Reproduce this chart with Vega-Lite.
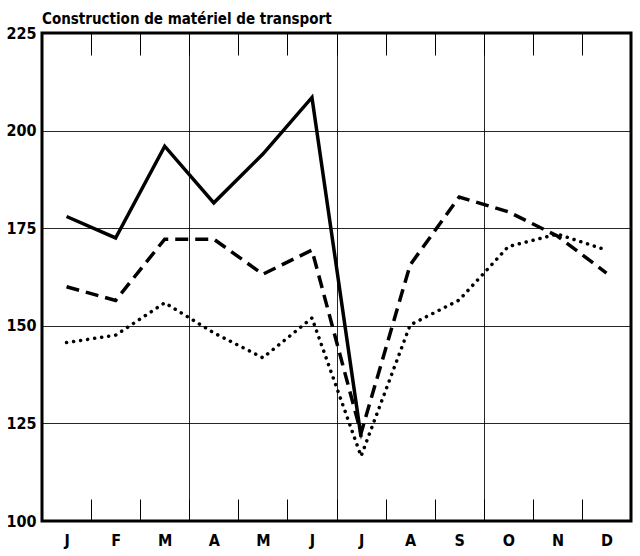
{
  "$schema": "https://vega.github.io/schema/vega-lite/v6.json",
  "width": 589,
  "height": 488,
  "autosize": {"type": "none"},
  "padding": {"left": 42, "top": 33, "right": 9, "bottom": 35},
  "background": "white",
  "title": {
    "text": "Construction de matériel de transport",
    "anchor": "start",
    "frame": "group",
    "font": "DejaVu Sans Condensed",
    "fontSize": 15,
    "fontWeight": "bold",
    "color": "black",
    "offset": -2
  },
  "config": {
    "view": {"stroke": "black", "strokeWidth": 3},
    "axis": {
      "labelFont": "DejaVu Sans Condensed",
      "labelFontWeight": "bold",
      "labelFontSize": 16,
      "labelColor": "black",
      "domain": false,
      "title": null
    }
  },
  "data": {
    "values": [
      {"serie": "solid", "m": 0.5, "v": 178},
      {"serie": "solid", "m": 1.5, "v": 172.5},
      {"serie": "solid", "m": 2.5, "v": 196},
      {"serie": "solid", "m": 3.5, "v": 181.5},
      {"serie": "solid", "m": 4.5, "v": 194},
      {"serie": "solid", "m": 5.5, "v": 208.5},
      {"serie": "solid", "m": 6.5, "v": 121.5},
      {"serie": "dashed", "m": 0.5, "v": 160},
      {"serie": "dashed", "m": 1.5, "v": 156.5},
      {"serie": "dashed", "m": 2.5, "v": 172.2},
      {"serie": "dashed", "m": 3.5, "v": 172.2},
      {"serie": "dashed", "m": 4.5, "v": 163.2},
      {"serie": "dashed", "m": 5.5, "v": 169.4},
      {"serie": "dashed", "m": 6.5, "v": 122.5},
      {"serie": "dashed", "m": 7.5, "v": 165.6},
      {"serie": "dashed", "m": 8.5, "v": 183},
      {"serie": "dashed", "m": 9.5, "v": 179.2},
      {"serie": "dashed", "m": 10.5, "v": 173},
      {"serie": "dashed", "m": 11.5, "v": 163.5},
      {"serie": "dotted", "m": 0.5, "v": 145.7},
      {"serie": "dotted", "m": 1.5, "v": 147.6},
      {"serie": "dotted", "m": 2.5, "v": 155.9},
      {"serie": "dotted", "m": 3.5, "v": 148.2},
      {"serie": "dotted", "m": 4.5, "v": 141.8},
      {"serie": "dotted", "m": 5.5, "v": 152},
      {"serie": "dotted", "m": 6.5, "v": 116.6},
      {"serie": "dotted", "m": 7.5, "v": 150.2},
      {"serie": "dotted", "m": 8.5, "v": 156.6},
      {"serie": "dotted", "m": 9.5, "v": 170.3},
      {"serie": "dotted", "m": 10.5, "v": 173.5},
      {"serie": "dotted", "m": 11.5, "v": 169.4}
    ]
  },
  "encoding": {
    "y": {
      "field": "v",
      "type": "quantitative",
      "scale": {"domain": [100, 225], "nice": false, "zero": false},
      "axis": {
        "values": [100, 125, 150, 175, 200, 225],
        "grid": true,
        "gridColor": "black",
        "gridWidth": 1,
        "gridOpacity": 0.85,
        "ticks": false,
        "labelPadding": 6,
        "labelBaseline": "middle"
      }
    }
  },
  "resolve": {"axis": {"x": "independent"}},
  "layer": [
    {
      "transform": [{"filter": "datum.serie === 'solid'"}],
      "mark": {"type": "line", "color": "black", "strokeWidth": 3.5, "strokeJoin": "miter"},
      "encoding": {
        "x": {
          "field": "m",
          "type": "quantitative",
          "scale": {"domain": [0, 12], "nice": false, "zero": false},
          "axis": {
            "orient": "bottom",
            "values": [1, 2, 3, 4, 5, 6, 7, 8, 9, 10, 11, 12],
            "labelExpr": "['J','F','M','A','M','J','J','A','S','O','N','D'][datum.value - 1]",
            "labelOffset": -24.5,
            "tickSize": -22,
            "tickColor": "black",
            "tickWidth": 1,
            "labelPadding": 33,
            "labelBaseline": "top",
            "labelFlush": false,
            "labelOverlap": false,
            "grid": false
          }
        }
      }
    },
    {
      "transform": [{"filter": "datum.serie === 'dashed'"}],
      "mark": {"type": "line", "color": "black", "strokeWidth": 3.5, "strokeDash": [13, 7]},
      "encoding": {
        "x": {
          "field": "m",
          "type": "quantitative",
          "axis": {
            "orient": "top",
            "values": [1, 2, 3, 4, 5, 6, 7, 8, 9, 10, 11],
            "labels": false,
            "tickSize": -22,
            "tickColor": "black",
            "tickWidth": 1,
            "grid": true,
            "gridColor": "black",
            "gridWidth": 1,
            "gridOpacity": {"condition": {"test": "datum.value % 3 === 0", "value": 0.85}, "value": 0}
          }
        }
      }
    },
    {
      "transform": [{"filter": "datum.serie === 'dotted'"}],
      "mark": {"type": "line", "color": "black", "strokeWidth": 3.5, "strokeDash": [0.1, 7], "strokeCap": "round"},
      "encoding": {
        "x": {"field": "m", "type": "quantitative", "axis": null}
      }
    }
  ]
}
